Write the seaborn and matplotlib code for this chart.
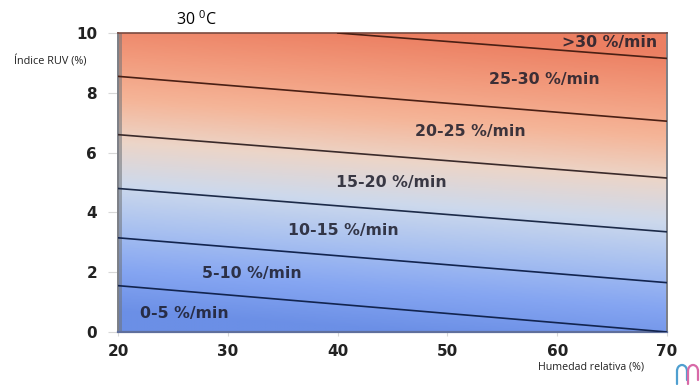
import numpy as np
import pandas as pd
import matplotlib.pyplot as plt
from matplotlib.colors import LinearSegmentedColormap
from matplotlib.patches import Arc
from matplotlib.lines import Line2D
from matplotlib.transforms import Affine2D
import seaborn as sns

humedad = [20, 70]
limite_0_5 = [1.55, 0.0]
limite_5_10 = [3.15, 1.65]
limite_10_15 = [4.8, 3.35]
limite_15_20 = [6.6, 5.15]
limite_20_25 = [8.55, 7.05]
humedad_25_30 = [40, 70]
limite_25_30 = [10.0, 9.15]

etiquetas = ['>30 %/min', '25-30 %/min', '20-25 %/min', '15-20 %/min',
             '10-15 %/min', '5-10 %/min', '0-5 %/min']
etiquetas_x = [64.8, 58.8, 52.1, 44.9, 40.5, 32.2, 26.0]
etiquetas_y = [9.67, 8.46, 6.72, 5.0, 3.38, 1.97, 0.63]

ticks_x = [20, 30, 40, 50, 60, 70]
ticks_y = [0, 2, 4, 6, 8, 10]

colores_fondo = ['#6b8fe6', '#86a6f2', '#a9c1f0', '#cdd9ec', '#ecd5c8',
                 '#f5b598', '#f29a7c', '#ec7f62']

sns.set_theme(style='white')
plt.rcParams['font.family'] = ['Open Sans', 'DejaVu Sans']
plt.rcParams['mathtext.default'] = 'regular'

fig = plt.figure(figsize=(7, 3.85), dpi=100)
ax = fig.add_axes([118 / 700, 1 - 332 / 385, 549 / 700, 299 / 385])

# Fondo en degradado, algo inclinado como las lineas
xx, yy = np.meshgrid(np.linspace(20, 70, 200), np.linspace(0, 10, 200))
fondo = yy + 0.025 * (xx - 45)
cmap = LinearSegmentedColormap.from_list('ruv', colores_fondo)
ax.imshow(fondo, extent=[20, 70, 0, 10], origin='lower', aspect='auto', cmap=cmap,
          vmin=0, vmax=10, zorder=0)
ax.axvspan(20, 20.35, color='#6f7378', alpha=0.55, lw=0, zorder=1)

# Lineas entre zonas
lineas = pd.concat([
    pd.DataFrame({'humedad': humedad, 'ruv': limite_0_5, 'zona': 'a', 'color': '#12244f'}),
    pd.DataFrame({'humedad': humedad, 'ruv': limite_5_10, 'zona': 'b', 'color': '#12244f'}),
    pd.DataFrame({'humedad': humedad, 'ruv': limite_10_15, 'zona': 'c', 'color': '#1c2a48'}),
    pd.DataFrame({'humedad': humedad, 'ruv': limite_15_20, 'zona': 'd', 'color': '#3a2a2a'}),
    pd.DataFrame({'humedad': humedad, 'ruv': limite_20_25, 'zona': 'e', 'color': '#4a1f14'}),
    pd.DataFrame({'humedad': humedad_25_30, 'ruv': limite_25_30, 'zona': 'f', 'color': '#4a1f14'}),
])
paleta = dict(zip(lineas['zona'], lineas['color']))
sns.lineplot(data=lineas, x='humedad', y='ruv', hue='zona', palette=paleta, linewidth=1.2,
             legend=False, ax=ax, zorder=3)

for texto, x, y in zip(etiquetas, etiquetas_x, etiquetas_y):
    ax.text(x, y, texto, ha='center', va='center', fontsize=11.3, fontweight='bold',
            family='DejaVu Sans', color='#1c1c2a', alpha=0.85, zorder=4)

ax.set_xlim(20, 70)
ax.set_ylim(0, 10)
ax.set_xticks(ticks_x)
ax.set_yticks(ticks_y)
ax.set_xticklabels(ticks_x, fontsize=11, fontweight='bold', family='DejaVu Sans', color='#222222')
ax.set_yticklabels(ticks_y, fontsize=11, fontweight='bold', family='DejaVu Sans', color='#222222')
ax.tick_params(axis='y', length=7, width=0.8, color='#d8d8d8', pad=8, left=True)
ax.tick_params(axis='x', length=3, width=0.8, color='#d8d8d8', pad=6, bottom=True)
ax.set_xlabel('')
ax.set_ylabel('')
for lado in ['left', 'right']:
    ax.spines[lado].set_color('#7c7f86')
    ax.spines[lado].set_linewidth(1.4)
ax.spines['top'].set_color('#7a4a40')
ax.spines['top'].set_linewidth(1.2)
ax.spines['bottom'].set_color('#5f6f9c')
ax.spines['bottom'].set_linewidth(1.6)

fig.text(196.5 / 700, 1 - 20 / 385, '30 $^{0}$C', ha='center', va='center', fontsize=11.5, color='black')
fig.text(14 / 700, 1 - 61 / 385, 'Índice RUV (%)', ha='left', va='center', fontsize=7.8, color='#222222')
fig.text(644 / 700, 1 - 367 / 385, 'Humedad relativa (%)', ha='right', va='center', fontsize=7.7,
         color='#222222')

# Logo pequeno abajo a la derecha, en pixeles de la figura
pixeles = Affine2D().scale(1 / 700, -1 / 385).translate(0, 1) + fig.transFigure
for cx, color in [(682, '#4f9fd0'), (693, '#d86aa8')]:
    fig.add_artist(Arc((cx, 371), 10, 12, theta1=180, theta2=360, color=color, lw=1.6, transform=pixeles))
    fig.add_artist(Line2D([cx - 5, cx - 5], [371, 384], color=color, lw=1.6, transform=pixeles))
    fig.add_artist(Line2D([cx + 5, cx + 5], [371, 380], color=color, lw=1.6, transform=pixeles))

fig.savefig('out.png', dpi=100)
